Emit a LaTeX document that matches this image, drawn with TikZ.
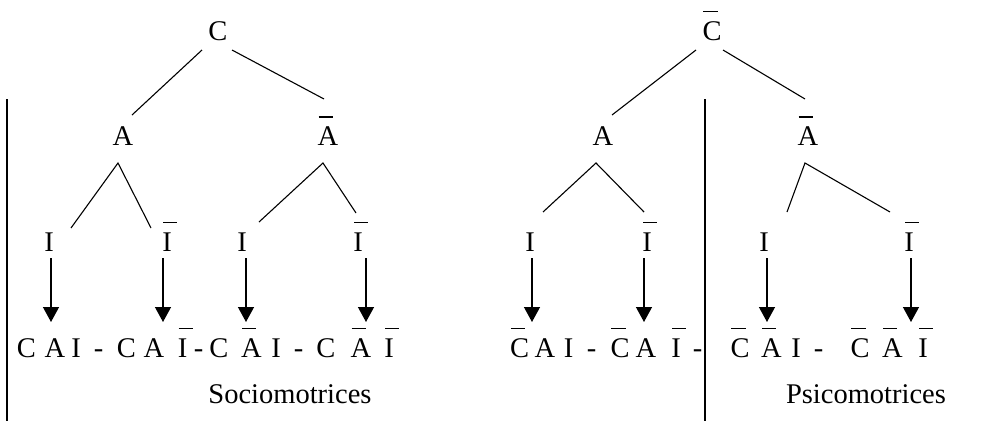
\documentclass[tikz,border=0pt]{standalone}
\usepackage{fontspec}
\setmainfont{Liberation Serif}
\usetikzlibrary{arrows.meta,calc}
\newcommand{\ob}[1]{\rlap{\kern0.03em\rule[0.97em]{0.5em}{0.05em}}#1}
\begin{document}
\begin{tikzpicture}[x=1pt,y=-1pt,font=\fontsize{28.5}{32}\selectfont,
  lbl/.style={inner sep=0pt,anchor=base},
  edge/.style={line width=1.1pt},
  arr/.style={line width=1.3pt,-{Triangle[length=15pt,width=16pt]}},
  sep/.style={line width=1.3pt}]
\useasboundingbox (0,0) rectangle (1007,421);
% left tree
\node[lbl] (c1) at (218,40) {C};
\node[lbl] (a1) at (123,145.5) {A};
\node[lbl] (na1) at (328,145.5) {\ob{A}};
\node[lbl] (i1) at (49,251) {I};
\node[lbl] (ni1) at (167,251) {\ob{I}};
\node[lbl] (i2) at (242,251) {I};
\node[lbl] (ni2) at (358,251) {\ob{I}};
% right tree
\node[lbl] (c2) at (712,40) {\ob{C}};
\node[lbl] (a2) at (603,145.5) {A};
\node[lbl] (na2) at (808,145.5) {\ob{A}};
\node[lbl] (i3) at (530,251) {I};
\node[lbl] (ni3) at (647,251) {\ob{I}};
\node[lbl] (i4) at (764,251) {I};
\node[lbl] (ni4) at (909,251) {\ob{I}};
% edges left
\draw[edge] ($(c1.base)+(-16,10)$) -- ($(a1.base)+(9,-30.5)$);
\draw[edge] ($(c1.base)+(14,10)$) -- ($(na1.base)+(-4,-46.5)$);
\draw[edge] ($(i1.base)+(22,-23)$) -- ($(a1.base)+(-5,17.5)$) -- ($(ni1.base)+(-16,-23)$);
\draw[edge] ($(i2.base)+(17,-29)$) -- ($(na1.base)+(-5,17.5)$) -- ($(ni2.base)+(-2,-38)$);
% edges right
\draw[edge] ($(c2.base)+(-16,10)$) -- ($(a2.base)+(9,-30.5)$);
\draw[edge] ($(c2.base)+(11,10)$) -- ($(na2.base)+(-3,-46.5)$);
\draw[edge] ($(i3.base)+(13,-39)$) -- ($(a2.base)+(-7,17.5)$) -- ($(ni3.base)+(-3,-39)$);
\draw[edge] ($(i4.base)+(23,-39)$) -- ($(na2.base)+(-3,17.5)$) -- ($(ni4.base)+(-19,-39)$);
% arrows
\draw[arr] ($(i1.base)+(2,7)$) -- ($(i1.base)+(2,71)$);
\draw[arr] ($(ni1.base)+(-4,7)$) -- ($(ni1.base)+(-4,71)$);
\draw[arr] ($(i2.base)+(4,7)$) -- ($(i2.base)+(4,71)$);
\draw[arr] ($(ni2.base)+(8,7)$) -- ($(ni2.base)+(8,71)$);
\draw[arr] ($(i3.base)+(2,7)$) -- ($(i3.base)+(2,71)$);
\draw[arr] ($(ni3.base)+(-3,7)$) -- ($(ni3.base)+(-3,71)$);
\draw[arr] ($(i4.base)+(3,7)$) -- ($(i4.base)+(3,71)$);
\draw[arr] ($(ni4.base)+(2,7)$) -- ($(ni4.base)+(2,71)$);
% separators
\draw[sep] (7,99) -- (7,421);
\draw[sep] (705,99) -- (705,421);
% bottom rows
\foreach \x/\t [count=\k] in {26.5/C,55/A,76/I,98.5/-,126.5/C,154/A,182.5/\ob{I},198.5/-,219/C,251.5/\ob{A},276/I,298.5/-,326/C,361/\ob{A},389/\ob{I}}
  \node[lbl] (L\k) at (\x,357) {\t};
\foreach \x/\t [count=\k] in {519.5/\ob{C},545/A,568.5/I,591.5/-,620/\ob{C},646/A,676/\ob{I},697.5/-,740/\ob{C},771.5/\ob{A},796/I,818.5/-,860/\ob{C},892.5/\ob{A},923/\ob{I}}
  \node[lbl] (R\k) at (\x,357) {\t};
\node[lbl] (soc) at (290,403) {Sociomotrices};
\node[lbl] (psi) at (866,403) {Psicomotrices};
\end{tikzpicture}
\end{document}
